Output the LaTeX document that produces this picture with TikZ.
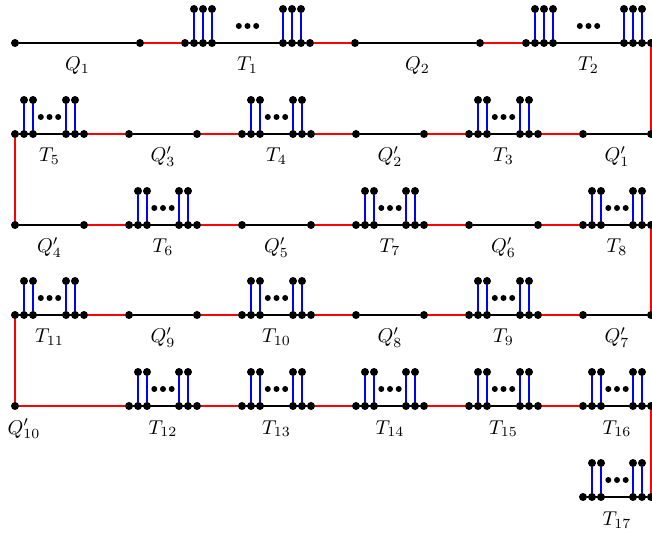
\documentclass[tikz,border=0pt]{standalone}
\usepackage{amsmath,amssymb}
\usepackage{tikz}
\usetikzlibrary{positioning}

% a Q piece: two end vertices joined by a path
\newcommand{\Qpiece}[5]{%
  \node[dot] (#1l) at (#2,#4) {};
  \node[dot] (#1r) at (#3,#4) {};
  \draw[pathedge] (#1l) -- (#1r);
  \node[lab] (#1t) at ({(#2+#3)/2},{#4+28}) {#5};
}

% a T piece: path with #5 pendant edges at each end
\newcommand{\Tpiece}[6]{%
  \node[dot] (#1l) at (#2,#4) {};
  \node[dot] (#1r) at (#3,#4) {};
  \draw[pathedge] (#1l) -- (#1r);
  \foreach \k in {1,...,#5}{
    \node[dot] (#1a\k) at ({#2+9*\k},#4) {};
    \node[dot] (#1p\k) at ({#2+9*\k},{#4-34}) {};
    \node[dot] (#1b\k) at ({#3-9*\k},#4) {};
    \node[dot] (#1q\k) at ({#3-9*\k},{#4-34}) {};
    \draw[rung] (#1a\k) -- (#1p\k);
    \draw[rung] (#1b\k) -- (#1q\k);
  }
  \node[sdot] (#1d2) at ({(#2+#3)/2},{#4-17}) {};
  \node[sdot] (#1d1) at ({(#2+#3)/2-8.7},{#4-17}) {};
  \node[sdot] (#1d3) at ({(#2+#3)/2+8.7},{#4-17}) {};
  \node[lab] (#1t) at ({(#2+#3)/2},{#4+28}) {#6};
}

\begin{document}
\begin{tikzpicture}[x=0.5pt,y=-0.5pt]
  \tikzstyle{dot}=[circle,fill=black,inner sep=0pt,minimum size=4pt]
  \tikzstyle{sdot}=[circle,fill=black,inner sep=0pt,minimum size=3pt]
  \tikzstyle{lab}=[anchor=base,inner sep=0pt]
  \tikzstyle{pathedge}=[draw=black,line width=0.6pt]
  \tikzstyle{rung}=[draw=blue,line width=0.7pt]
  \tikzstyle{redlink}=[draw=red,line width=0.6pt]
  \useasboundingbox (0,0) rectangle (652,533);

  % row 1
  \Qpiece{Q1}{15}{140}{43}{$Q_1$}
  \Tpiece{T1}{185}{310}{43}{3}{$T_1$}
  \Qpiece{Q2}{355}{480}{43}{$Q_2$}
  \Tpiece{T2}{526}{651}{43}{3}{$T_2$}

  % row 2
  \Tpiece{T5}{15}{84}{134}{2}{$T_5$}
  \Qpiece{Qc}{129}{197}{134}{$Q'_3$}
  \Tpiece{T4}{242}{311}{134}{2}{$T_4$}
  \Qpiece{Qb}{356}{424}{134}{$Q'_2$}
  \Tpiece{T3}{469}{538}{134}{2}{$T_3$}
  \Qpiece{Qa}{583}{651}{134}{$Q'_1$}

  % row 3
  \Qpiece{Qd}{15}{84}{225}{$Q'_4$}
  \Tpiece{T6}{129}{197}{225}{2}{$T_6$}
  \Qpiece{Qe}{242}{311}{225}{$Q'_5$}
  \Tpiece{T7}{356}{424}{225}{2}{$T_7$}
  \Qpiece{Qf}{469}{538}{225}{$Q'_6$}
  \Tpiece{T8}{583}{651}{225}{2}{$T_8$}

  % row 4
  \Tpiece{T11}{15}{84}{315}{2}{$T_{11}$}
  \Qpiece{Qi}{129}{197}{315}{$Q'_9$}
  \Tpiece{T10}{242}{311}{315}{2}{$T_{10}$}
  \Qpiece{Qh}{356}{424}{315}{$Q'_8$}
  \Tpiece{T9}{469}{538}{315}{2}{$T_9$}
  \Qpiece{Qg}{583}{651}{315}{$Q'_7$}

  % row 5
  \node[dot] (Qj) at (15,406) {};
  \node[lab] (Qjt) at (24,434) {$Q'_{10}$};
  \Tpiece{T12}{129}{197}{406}{2}{$T_{12}$}
  \Tpiece{T13}{242}{311}{406}{2}{$T_{13}$}
  \Tpiece{T14}{356}{424}{406}{2}{$T_{14}$}
  \Tpiece{T15}{469}{538}{406}{2}{$T_{15}$}
  \Tpiece{T16}{583}{651}{406}{2}{$T_{16}$}

  % row 6
  \Tpiece{T17}{583}{651}{497}{2}{$T_{17}$}

  % red links
  \draw[redlink] (Q1r) -- (T1l);
  \draw[redlink] (T1r) -- (Q2l);
  \draw[redlink] (Q2r) -- (T2l);
  \draw[redlink] (T2r) -- (Qar);
  \draw[redlink] (Qal) -- (T3r);
  \draw[redlink] (T3l) -- (Qbr);
  \draw[redlink] (Qbl) -- (T4r);
  \draw[redlink] (T4l) -- (Qcr);
  \draw[redlink] (Qcl) -- (T5r);
  \draw[redlink] (T5l) -- (Qdl);
  \draw[redlink] (Qdr) -- (T6l);
  \draw[redlink] (T6r) -- (Qel);
  \draw[redlink] (Qer) -- (T7l);
  \draw[redlink] (T7r) -- (Qfl);
  \draw[redlink] (Qfr) -- (T8l);
  \draw[redlink] (T8r) -- (Qgr);
  \draw[redlink] (Qgl) -- (T9r);
  \draw[redlink] (T9l) -- (Qhr);
  \draw[redlink] (Qhl) -- (T10r);
  \draw[redlink] (T10l) -- (Qir);
  \draw[redlink] (Qil) -- (T11r);
  \draw[redlink] (T11l) -- (Qj);
  \draw[redlink] (Qj) -- (T12l);
  \draw[redlink] (T12r) -- (T13l);
  \draw[redlink] (T13r) -- (T14l);
  \draw[redlink] (T14r) -- (T15l);
  \draw[redlink] (T15r) -- (T16l);
  \draw[redlink] (T16r) -- (T17r);
\end{tikzpicture}
\end{document}
